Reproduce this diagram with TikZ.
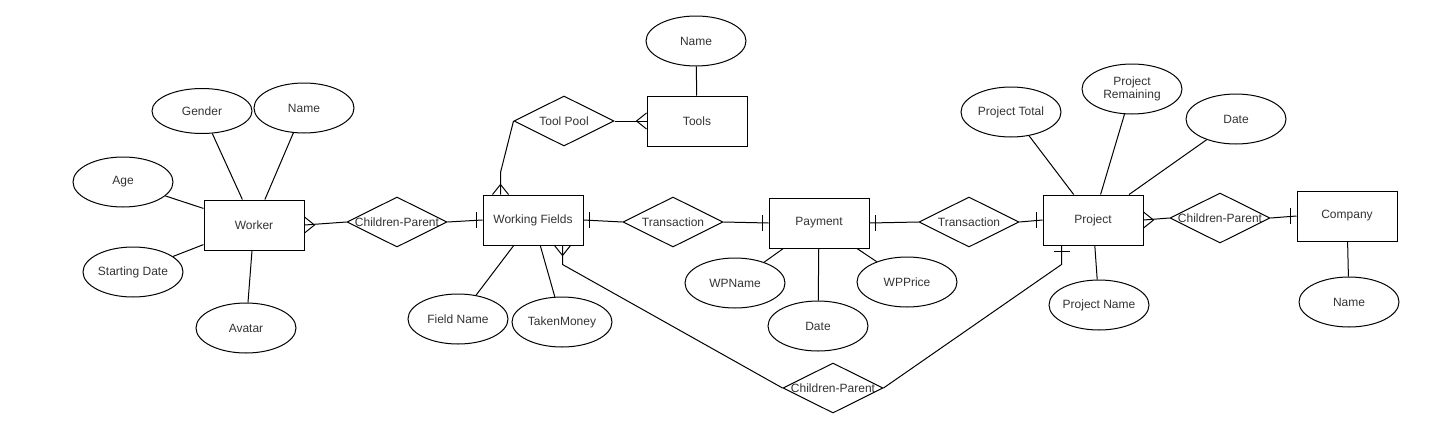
\documentclass[tikz,border=0pt]{standalone}
\usepackage{fontspec}
\setmainfont{Liberation Sans}
\usetikzlibrary{shapes.geometric}

\begin{document}
\begin{tikzpicture}[x=1pt,y=-1pt,line width=1pt,
    every node/.style={font=\fontsize{12}{13.5}\selectfont,text=black!80},
    entity/.style={draw,rectangle,minimum width=100pt,minimum height=50pt,inner sep=0pt},
    oval/.style={draw,ellipse,minimum width=100pt,minimum height=50pt,inner sep=0pt},
    attr/.style={oval,execute at begin node={\hbox to 0pt\bgroup\hss},execute at end node={\hss\egroup}},
    rel/.style={draw,diamond,minimum width=100pt,minimum height=50pt,inner sep=0pt,
        execute at begin node={\hbox to 0pt\bgroup\hss},execute at end node={\hss\egroup}},
    crow/.pic={\draw (0,-8) -- (10,0) -- (0,8);},
    onebar/.pic={\draw (6,-8) -- (6,8);}]
    \useasboundingbox (0,0) rectangle (1444,445);
    % Entities
    \node[entity] (worker) at (254,225) {Worker};
    \node[entity] (wf) at (533,220) {Working Fields};
    \node[entity] (tools) at (697,121) {Tools};
    \node[entity] (payment) at (819,223) {Payment};
    \node[entity] (project) at (1093,220) {Project};
    \node[entity] (company) at (1347,216) {Company};
    % Relationships
    \node[rel] (cpworker) at (397,222) {Children-Parent};
    \node[rel] (toolpool) at (564,121) {Tool Pool};
    \node[rel] (transpay) at (673,222) {Transaction};
    \node[rel] (cpproject) at (833,388) {Children-Parent};
    \node[rel] (transproj) at (969,222) {Transaction};
    \node[rel] (cpcompany) at (1220,218) {Children-Parent};
    % Attributes
    \node[attr,minimum height=45pt] (gender) at (202,111) {Gender};
    \node[attr] (wname) at (304,108) {Name};
    \node[attr] (age) at (123,182) {Age};
    \node[attr] (sdate) at (133,272) {Starting Date};
    \node[attr] (avatar) at (246,328) {Avatar};
    \node[attr] (tname) at (696,41) {Name};
    \node[attr] (fname) at (458,319) {Field Name};
    \node[attr] (taken) at (562,322) {TakenMoney};
    \node[attr] (wpname) at (735,283) {WPName};
    \node[attr] (paydate) at (818,326) {Date};
    \node[attr] (wpprice) at (907,282) {WPPrice};
    \node[attr] (ptotal) at (1011,112) {Project Total};
    \node[oval,align=center] (premain) at (1132,89) {Project\\Remaining};
    \node[attr] (prdate) at (1236,119) {Date};
    \node[attr] (pname) at (1099,305) {Project Name};
    \node[attr] (cname) at (1349,302) {Name};
    % Attribute lines
    \foreach \a/\e in {gender/worker,wname/worker,age/worker,sdate/worker,avatar/worker,
        tname/tools,fname/wf,taken/wf,wpname/payment,paydate/payment,wpprice/payment,
        ptotal/project,premain/project,prdate/project,pname/project,cname/company}
        \draw (\a) -- (\e);
    % Relationship lines
    \draw (worker.east) -- (cpworker.west);
    \draw (cpworker.east) -- (wf.west);
    \draw (wf.east) -- (transpay.west);
    \draw (transpay.east) -- (payment.west);
    \draw (payment.east) -- (transproj.west);
    \draw (transproj.east) -- (project.west);
    \draw (project.east) -- (cpcompany.west);
    \draw (cpcompany.east) -- (company.west);
    \draw (toolpool.east) -- (tools.west);
    \draw (toolpool.west) -- ([shift={(18,-22)}]wf.north west) -- ([shift={(18,0)}]wf.north west);
    \draw ([shift={(80,0)}]wf.south west) -- ([shift={(80,19)}]wf.south west) -- (cpproject.west);
    \draw (cpproject.east) -- ([shift={(19,19)}]project.south west) -- ([shift={(19,0)}]project.south west);
    % Cardinality marks
    \pic at (worker.east) {crow};
    \pic[rotate=180] at (tools.west) {crow};
    \pic[rotate=90] at ([shift={(18,0)}]wf.north west) {crow};
    \pic[rotate=-90] at ([shift={(80,0)}]wf.south west) {crow};
    \pic at (project.east) {crow};
    \pic[rotate=180] at (wf.west) {onebar};
    \pic at (wf.east) {onebar};
    \pic[rotate=180] at (payment.west) {onebar};
    \pic at (payment.east) {onebar};
    \pic[rotate=180] at (project.west) {onebar};
    \pic[rotate=-90] at ([shift={(19,0)}]project.south west) {onebar};
    \pic[rotate=180] at (company.west) {onebar};
\end{tikzpicture}
\end{document}
